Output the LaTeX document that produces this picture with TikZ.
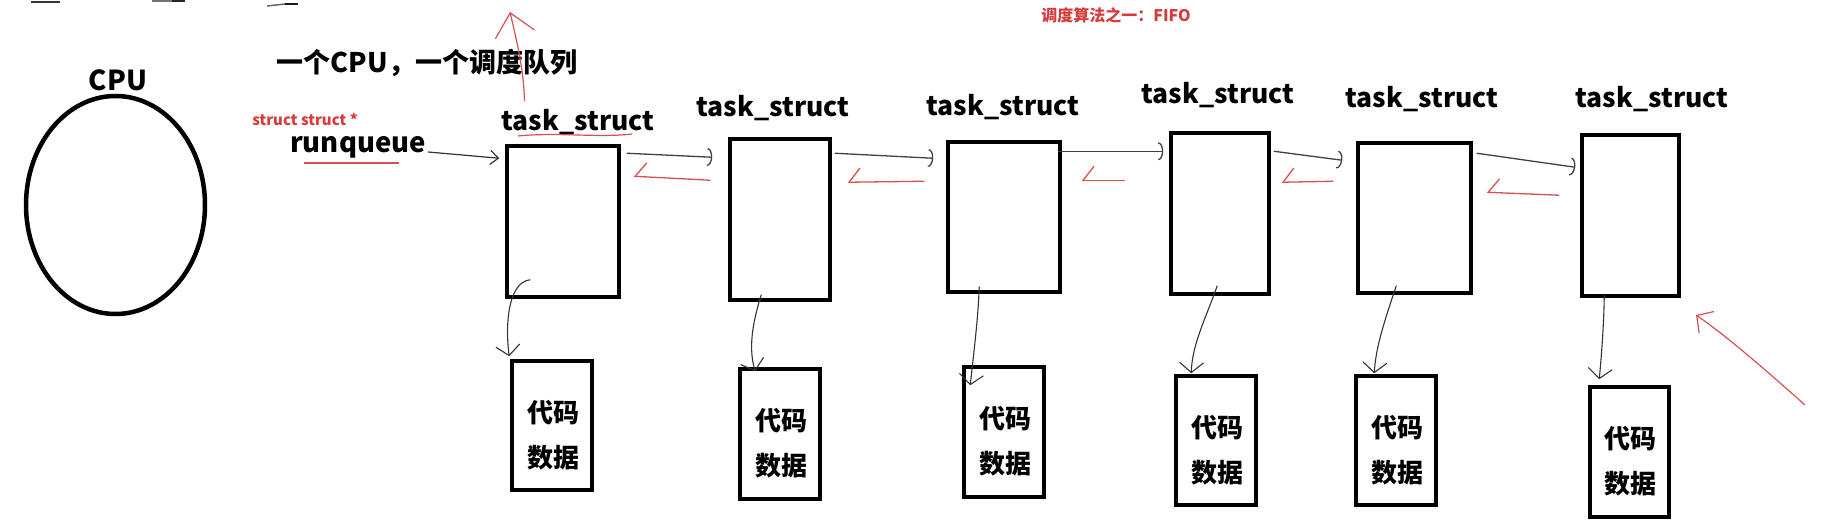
\documentclass[tikz,border=0pt]{standalone}
\usepackage{fontspec}
\setmainfont{Noto Sans CJK SC}
\usetikzlibrary{arrows.meta,calc,shapes.geometric}
\definecolor{annot}{RGB}{214,58,58}
\definecolor{annotline}{RGB}{215,80,80}
\begin{document}
\begin{tikzpicture}[x=1pt,y=-1pt,
  tbox/.style={draw, line width=3.5pt, inner sep=0pt},
  dbox/.style={draw, line width=3.5pt, inner sep=0pt},
  dtxt/.style={inner sep=0pt, font=\bfseries\fontsize{26}{30}\selectfont},
  lbl/.style={inner sep=0pt, font=\bfseries\fontsize{26.5}{32}\selectfont},
  fwd/.style={draw=black!75, line width=1.3pt, -{Arc Barb[length=5pt,width=18pt]}},
  back/.style={draw=annotline, line width=1.3pt, -{Straight Barb[right,length=11pt,width=28pt]}},
  down/.style={draw=black!80, line width=1.1pt, -{Straight Barb[length=10pt,width=24pt]}},
  redline/.style={draw=annotline, line width=1.2pt}
]
\useasboundingbox (0,0) rectangle (1837,526);
% top scraps
\draw[line width=2pt, black!80] (31,2) -- (60,2);
\draw[line width=3pt, black!55] (152,1) -- (172,1);
\draw[line width=3pt, black!85] (172,1) -- (185,1);
\draw[line width=1.5pt, black!60] (267,6) -- (285,4);
\draw[line width=1.5pt, black!90] (285,4) -- (298,4);

% CPU
\node[draw, line width=4.5pt, ellipse, minimum width=179pt, minimum height=218pt, inner sep=0pt] (cpu) at (115.5,205) {};
\node[inner sep=0pt, font=\bfseries\fontsize{27.5}{32}\selectfont] (cpulbl) at (118,80) {CPU};
\node[inner sep=0pt, font=\bfseries\fontsize{27}{30}\selectfont] (title) at (427,63) {一个CPU，一个调度队列};
\node[inner sep=0pt, text=annot, font=\bfseries\fontsize{15}{20}\selectfont] (ss) at (305,119) {struct struct *};
\node[inner sep=0pt, font=\bfseries\fontsize{27.5}{32}\selectfont] (rq) at (358,147) {runqueue};
\node[inner sep=0pt, text=annot, font=\bfseries\fontsize{16}{20}\selectfont] (fifo) at (1116,15) {调度算法之一：FIFO};

% task_struct labels
\node[lbl] (t1) at (578,122) {task\_struct};
\node[lbl] (t2) at (773,108) {task\_struct};
\node[lbl] (t3) at (1003,107) {task\_struct};
\node[lbl] (t4) at (1218,95) {task\_struct};
\node[lbl] (t5) at (1422,99) {task\_struct};
\node[lbl] (t6) at (1652,99) {task\_struct};

% upper boxes
\node[tbox, minimum width=112pt, minimum height=151pt] (b1) at (563,221.5) {};
\node[tbox, minimum width=100pt, minimum height=161pt] (b2) at (780,219.5) {};
\node[tbox, minimum width=112pt, minimum height=150pt] (b3) at (1004,217) {};
\node[tbox, minimum width=98pt, minimum height=161pt] (b4) at (1220,213.5) {};
\node[tbox, minimum width=113pt, minimum height=150pt] (b5) at (1414.5,218) {};
\node[tbox, minimum width=97pt, minimum height=161pt] (b6) at (1630.5,215.5) {};

% lower boxes
\node[dbox, minimum width=80pt, minimum height=129pt] (d1) at (552,425.5) {};
\node[dbox, minimum width=80pt, minimum height=130pt] (d2) at (780,434) {};
\node[dbox, minimum width=80pt, minimum height=130pt] (d3) at (1004,432) {};
\node[dbox, minimum width=80pt, minimum height=129pt] (d4) at (1216,440.5) {};
\node[dbox, minimum width=80pt, minimum height=129pt] (d5) at (1396,440.5) {};
\node[dbox, minimum width=79pt, minimum height=130pt] (d6) at (1629.5,452) {};
\foreach \d in {d1,d2,d3,d4,d5,d6}{
  \node[dtxt] (\d code) at ($(\d.center)+(1,-13)$) {代码};
  \node[dtxt] (\d data) at ($(\d.center)+(1,32)$) {数据};
}

% red underlines
\draw[redline] ($(rq.center)+(-54,16)$) -- ($(rq.center)+(41,16)$);
\draw[redline] ($(t1.center)+(-60,14)$) .. controls ($(t1.center)+(-20,10)$) and ($(t1.center)+(20,16)$) .. ($(t1.center)+(54,12)$);

% runqueue -> first
\draw[draw=black!80, line width=1.2pt, -{Straight Barb[length=8pt,width=14pt]}] ($(rq.east)+(2,5)$) -- ($(b1.north west)+(-6,14)$);

% forward links
\draw[fwd] ($(b1.north east)+(6,9)$) -- ($(b2.north west)+(-16,20)$);
\draw[fwd] ($(b2.north east)+(3,16)$) -- ($(b3.north west)+(-13,18)$);
\draw[fwd] ($(b3.north east)+(-4,11)$) -- ($(b4.north west)+(-6,20)$);
\draw[fwd] ($(b4.north east)+(3,20)$) -- ($(b5.north west)+(-14,19)$);
\draw[fwd] ($(b5.north east)+(4,12)$) -- ($(b6.north west)+(-5,34)$);

% backward red links
\draw[back] ($(b2.north west)+(-18,43)$) -- ($(b1.north east)+(13,32)$);
\draw[back] ($(b3.north west)+(-22,41)$) -- ($(b2.north east)+(16,45)$);
\draw[back] ($(b4.north west)+(-44,49)$) -- ($(b3.north east)+(20,40)$);
\draw[back] ($(b5.north west)+(-23,40)$) -- ($(b4.north east)+(11,51)$);
\draw[back] ($(b6.north west)+(-21,62)$) -- ($(b5.north east)+(14,51)$);

% down links
\draw[down] ($(b1.south west)+(25,-19)$) .. controls (508,282) and (505,325) .. ($(d1.north west)+(-1,-3)$);
\draw[down] ($(b2.south west)+(33,-7)$) .. controls (755,315) and (747,345) .. ($(d2.north west)+(17,4)$);
\draw[down] ($(b3.south west)+(33,-7)$) .. controls (978,320) and (974,350) .. ($(d3.north west)+(8,20)$);
\draw[down] ($(b4.south west)+(48,-10)$) .. controls (1205,320) and (1192,345) .. ($(d4.north west)+(17,-1)$);
\draw[down] ($(b5.south west)+(40,-9)$) .. controls (1385,320) and (1376,345) .. ($(d5.north west)+(20,-1)$);
\draw[down] ($(b6.south west)+(24,-3)$) .. controls (1604,320) and (1602,350) .. ($(d6.north west)+(11,-6)$);

% red free arrows
\coordinate (upTip) at (510,12);
\draw[redline, -{Straight Barb[length=22pt,width=40pt]}] ($(t1.north west)+(23,-8)$) .. controls (524,67) and (514,30) .. (upTip);
\coordinate (rs) at (1805,405);
\coordinate (rt) at (1696,315);
\draw[redline, -{Straight Barb[length=12pt,width=26pt]}] (rs) .. controls (1760,365) and (1725,335) .. (rt);
\end{tikzpicture}
\end{document}
